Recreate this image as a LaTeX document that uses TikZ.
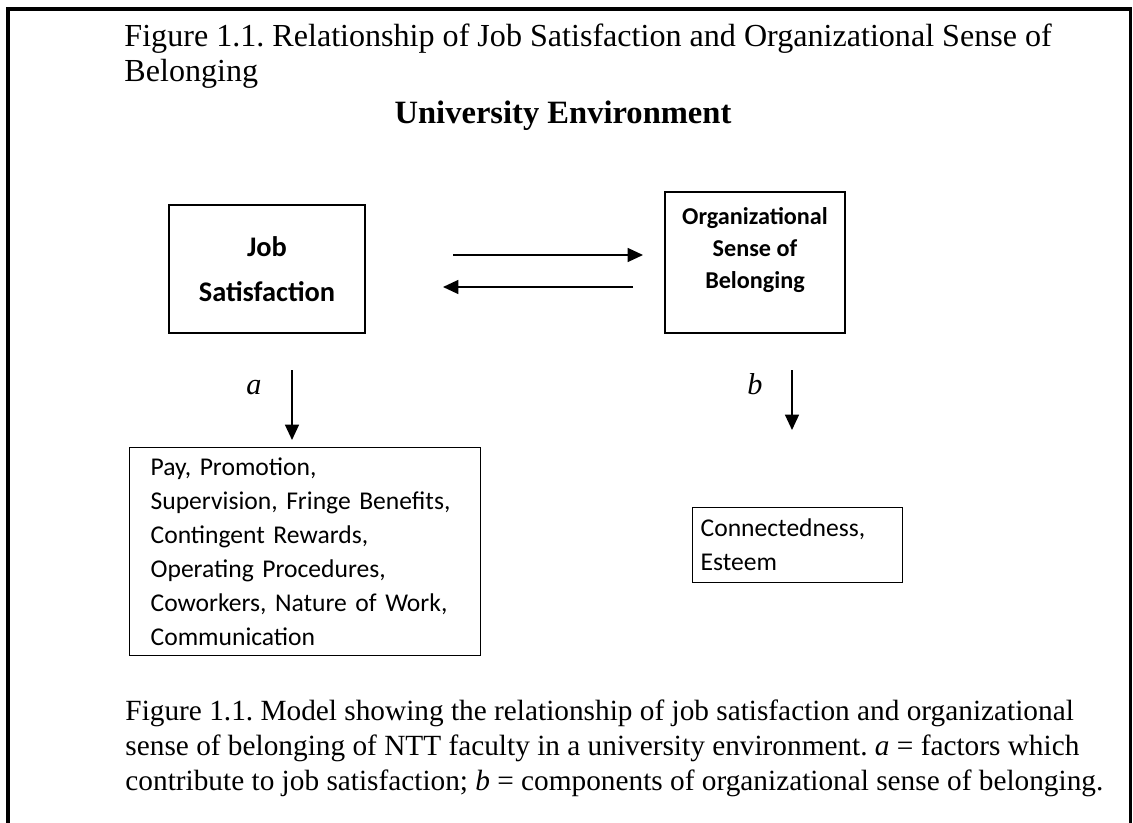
\documentclass[tikz,border=0pt]{standalone}
\usepackage{fontspec}
\setmainfont{Liberation Serif}
\newfontfamily\calibri{Carlito}
\usetikzlibrary{arrows.meta}
\newcommand\pxu{0.43pt}
\frenchspacing

\begin{document}
\begin{tikzpicture}[
  x=\pxu, y=-\pxu,
  frame/.style={line width=1.3pt},
  mainbox/.style={draw, line width=0.55pt, align=center, inner sep=0pt,
    font=\calibri\bfseries\fontsize{12.2}{19.5}\selectfont},
  boxtext/.style={align=center, inner sep=0pt,
    font=\calibri\bfseries\fontsize{10.4}{13.8}\selectfont},
  itembox/.style={draw, line width=0.55pt, align=left, anchor=north west,
    font=\calibri\fontsize{11}{14.6}\selectfont},
  link/.style={line width=0.65pt, -{Triangle[length=6.6pt,width=6pt]}},
  heading/.style={anchor=base west, inner sep=0pt, font=\fontsize{13.8}{16}\selectfont},
  caption/.style={anchor=base west, inner sep=0pt, font=\fontsize{12.6}{14}\selectfont},
  letter/.style={inner sep=0pt, font=\itshape\fontsize{13}{15}\selectfont}
]
  % page area and the open frame round the figure
  \useasboundingbox (0,0) rectangle (1133,823);
  \draw[frame] (8,830) -- (8,9) -- (1130,9) -- (1130,830);

  % heading
  \node[heading] (head1) at (124,47) {Figure 1.1. Relationship of Job Satisfaction and Organizational Sense of};
  \node[heading] (head2) at (124,82) {Belonging};
  \node[anchor=base, inner sep=0pt, font=\bfseries\fontsize{14}{16}\selectfont] (env) at (563,124) {University Environment};

  % the two main boxes
  \node[mainbox, minimum width=196*\pxu, minimum height=128*\pxu] (job) at (267,269) {Job\\Satisfaction};
  \node[mainbox, minimum width=180*\pxu, minimum height=141*\pxu] (org) at (755,262.5) {};
  \node[boxtext] (orgtext) at (755,250) {Organizational\\Sense of\\Belonging};

  % arrows between the boxes
  \coordinate (r1) at (453,255);
  \coordinate (r2) at (643,255);
  \coordinate (l1) at (633,287);
  \coordinate (l2) at (443,287);
  \draw[link] (r1) -- (r2);
  \draw[link] (l1) -- (l2);

  % arrows down to the factors and the components
  \coordinate (a1) at (292,370);
  \coordinate (a2) at (292,440);
  \coordinate (b1) at (792,370);
  \coordinate (b2) at (792,430);
  \draw[link] (a1) -- (a2);
  \draw[link] (b1) -- (b2);
  \node[letter] (alab) at (254,388) {a};
  \node[letter] (blab) at (755,384) {b};

  % factor and component boxes
  \node[itembox, text width=309*\pxu, inner xsep=21*\pxu, minimum height=208*\pxu] (factors) at (129,447)
    {Pay, Promotion,\\Supervision, Fringe Benefits,\\Contingent Rewards,\\Operating Procedures,\\Coworkers, Nature of Work,\\Communication};
  \node[itembox, text width=194*\pxu, inner xsep=8*\pxu, minimum height=75*\pxu] (parts) at (692,507)
    {Connectedness,\\Esteem};

  % caption
  \node[caption] (cap1) at (125,720) {Figure 1.1. Model showing the relationship of job satisfaction and organizational};
  \node[caption] (cap2) at (125,755) {sense of belonging of NTT faculty in a university environment. \textit{a} = factors which};
  \node[caption] (cap3) at (125,790) {contribute to job satisfaction; \textit{b} = components of organizational sense of belonging.};
\end{tikzpicture}
\end{document}
